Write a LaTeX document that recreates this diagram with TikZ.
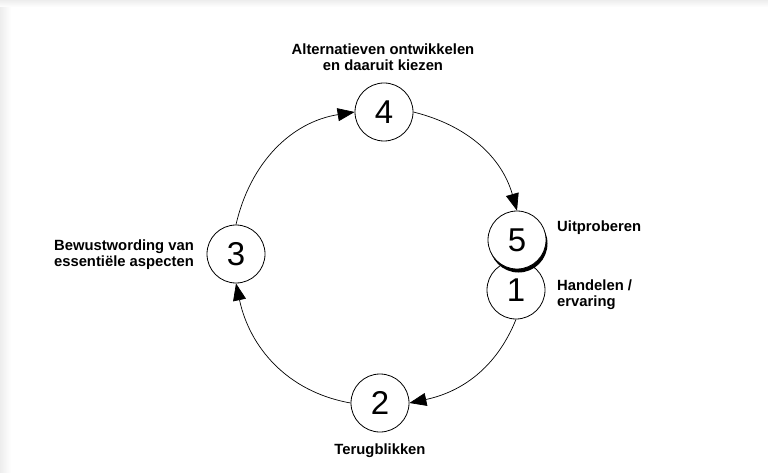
\documentclass[tikz,border=0pt]{standalone}
\usepackage{fontspec}
\setmainfont{Liberation Sans}
\usetikzlibrary{arrows.meta,shadows}

\begin{document}
\begin{tikzpicture}[x=1pt, y=-1pt,
    stage/.style={draw, circle, fill=white, line width=0.8pt, minimum size=58pt,
        inner sep=0pt, font=\fontsize{33}{35}\selectfont},
    label/.style={font=\fontsize{14.8}{16}\selectfont\bfseries, inner sep=0pt},
    flow/.style={-{Triangle[length=17pt, width=13pt]}, line width=0.7pt}]
    % frame
    \useasboundingbox (0,0) rectangle (768,473);
    \shade[left color=gray!14, right color=white] (0,0) rectangle (11,473);
    \shade[top color=gray!14, bottom color=white] (0,0) rectangle (768,7);

    % stages of the cycle
    \node[stage] (s4) at (384,112) {4};
    \node[stage] (s3) at (236,254) {3};
    \node[stage] (s2) at (380,403) {2};
    \node[stage] (s1) at (516,290) {1};
    \node[stage, drop shadow={shadow xshift=1.5pt, shadow yshift=-3.5pt, opacity=1, fill=black}]
        (s5) at (517,240) {5};

    % labels
    \node[label, align=center] (l4) at (383,57) {Alternatieven ontwikkelen\\en daaruit kiezen};
    \node[label, align=center] (l3) at (124,255) {Bewustwording van\\essentiële aspecten};
    \node[label, anchor=base west] (l5) at (557,232) {Uitproberen};
    \node[label, align=left, anchor=west] (l1) at (557,295) {Handelen /\\ervaring};
    \node[label, anchor=base] (l2) at (380,454) {Terugblikken};

    % arrows
    \draw[flow] (s4.east) to[out=-14, in=106] (s5.north);
    \draw[flow] (s1.south) to[out=-112, in=12] (s2.east);
    \draw[flow] (s2.west) to[out=170, in=-78] (s3.south);
    \draw[flow] (s3.north) to[out=77, in=189] (s4.west);
\end{tikzpicture}
\end{document}
